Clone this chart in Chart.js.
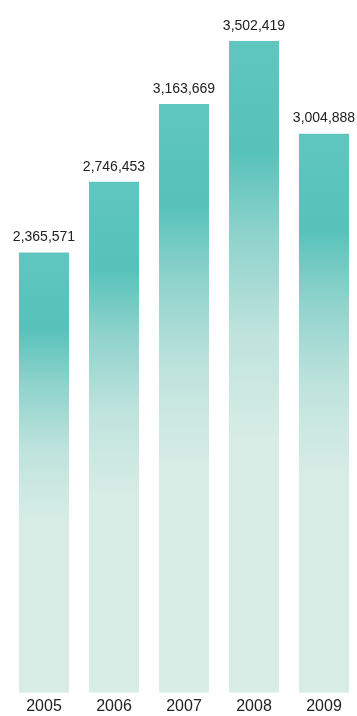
<!DOCTYPE html>
<html>
<head>
<meta charset="utf-8">
<script src="https://cdn.jsdelivr.net/npm/chart.js@4"></script>
<style>
  html, body { margin: 0; padding: 0; background: #fff; overflow: hidden; }
  #wrap { width: 359px; height: 716px; position: relative; }
</style>
</head>
<body>
<div id="wrap"><canvas id="barChart"></canvas></div>
<script>
var years = ["2005", "2006", "2007", "2008", "2009"];
var totals = [2365571, 2746453, 3163669, 3502419, 3004888];

var topColor = "#5fc6bf";
var midColor = "#57c2ba";
var lowColor = "#d8ede6";

// gradient per bar, from its top down to zero
function barFill(ctx) {
    var chart = ctx.chart;
    var y = chart.scales.y;
    if (!y || ctx.raw == null) return topColor;
    var top = y.getPixelForValue(ctx.raw);
    var base = y.getPixelForValue(0);
    if (!isFinite(top) || !isFinite(base) || top == base) return topColor;
    var g = chart.ctx.createLinearGradient(0, top, 0, base);
    g.addColorStop(0, topColor);
    g.addColorStop(0.17, midColor);
    g.addColorStop(0.3, "#8fd3cc");
    g.addColorStop(0.45, "#bfe3dd");
    g.addColorStop(0.62, lowColor);
    g.addColorStop(1, lowColor);
    return g;
}

var valueLabels = {
    id: "valueLabels",
    afterDatasetsDraw: function(chart) {
        var c = chart.ctx;
        var meta = chart.getDatasetMeta(0);
        c.save();
        c.font = "14px 'Liberation Sans', Arial, sans-serif";
        c.fillStyle = "#222";
        c.textAlign = "center";
        c.textBaseline = "bottom";
        meta.data.forEach(function(bar, i) {
            c.fillText(totals[i].toLocaleString("en-US"), bar.x, bar.y - 8);
        });
        c.restore();
    }
};

var barChart = new Chart(document.getElementById("barChart"), {
    type: "bar",
    data: {
        labels: years,
        datasets: [{
            data: totals,
            backgroundColor: barFill,
            borderWidth: 0,
            categoryPercentage: 1,
            barPercentage: 50 / 70
        }]
    },
    options: {
        responsive: true,
        maintainAspectRatio: false,
        animation: false,
        layout: { padding: { left: 9, right: 0, top: 0, bottom: -4 } },
        plugins: { legend: { display: false }, tooltip: { enabled: false } },
        scales: {
            x: {
                grid: { display: false, drawTicks: false },
                border: { display: false },
                ticks: {
                    color: "#222",
                    padding: 4,
                    font: { family: "'Liberation Sans', Arial, sans-serif", size: 16 }
                }
            },
            y: {
                display: false,
                min: 0,
                max: 3723000
            }
        }
    },
    plugins: [valueLabels]
});
</script>
</body>
</html>
